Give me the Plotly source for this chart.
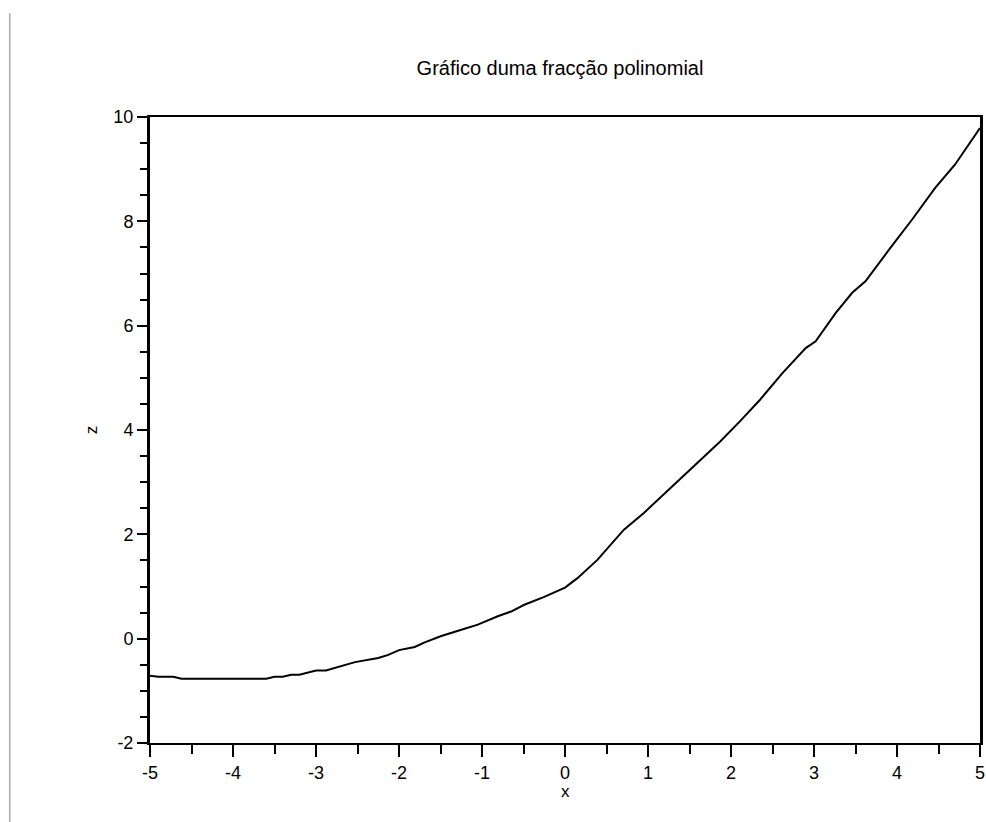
import plotly.graph_objects as go

# Sampled values of the polynomial fraction z(x)
x_vals = [-5.00, -4.90, -4.72, -4.62, -3.60, -3.50, -3.40, -3.30, -3.20, -3.00,
          -2.88, -2.53, -2.25, -2.13, -2.00, -1.81, -1.69, -1.49, -1.21, -1.05,
          -0.81, -0.65, -0.49, -0.25, 0.00, 0.15, 0.39, 0.71, 0.95, 1.31,
          1.63, 1.87, 2.11, 2.35, 2.62, 2.90, 3.02, 3.26, 3.46, 3.62,
          3.92, 4.18, 4.46, 4.70, 5.00]
z_vals = [-0.71, -0.73, -0.73, -0.77, -0.77, -0.73, -0.73, -0.69, -0.69, -0.61,
          -0.61, -0.45, -0.37, -0.31, -0.22, -0.16, -0.07, 0.05, 0.19, 0.27,
          0.43, 0.52, 0.65, 0.80, 0.98, 1.16, 1.51, 2.09, 2.41, 2.95,
          3.43, 3.78, 4.17, 4.58, 5.09, 5.57, 5.70, 6.24, 6.63, 6.85,
          7.49, 8.03, 8.64, 9.09, 9.79]

x_ticks = [-5, -4, -3, -2, -1, 0, 1, 2, 3, 4, 5]
x_labels = ["-5", "-4", "-3", "-2", "-1", "0", "1", "2", "3", "4", "5"]
y_ticks = [-2, 0, 2, 4, 6, 8, 10]
y_labels = ["-2", "0", "2", "4", "6", "8", "10"]

FONT = "Liberation Sans, Arial, sans-serif"

fig = go.Figure()
fig.add_trace(go.Scatter(x=x_vals, y=z_vals, mode="lines",
                         line=dict(color="black", width=2), showlegend=False))

fig.update_layout(
    width=986, height=822,
    margin=dict(l=150, r=1, t=117, b=79),
    paper_bgcolor="white", plot_bgcolor="white",
    font=dict(family=FONT, color="black", size=18),
    title=dict(text="Gráfico duma fracção polinomial", x=560 / 986, xanchor="center",
               y=1 - 68 / 822, yanchor="middle", font=dict(size=20)),
)

fig.update_xaxes(
    range=[-5, 5], tickmode="array", tickvals=x_ticks, ticktext=x_labels,
    ticks="outside", ticklen=12, tickwidth=2, tickcolor="black",
    ticklabeloverflow="allow",
    minor=dict(tickmode="linear", tick0=0, dtick=0.5, ticks="outside",
               ticklen=9, tickwidth=2, tickcolor="black"),
    showline=True, linewidth=2, linecolor="black", mirror=True,
    showgrid=False, zeroline=False,
    tickfont=dict(size=18),
)
fig.update_yaxes(
    range=[-2, 10], tickmode="array", tickvals=y_ticks, ticktext=y_labels,
    ticks="outside", ticklen=10, tickwidth=2, tickcolor="black",
    minor=dict(tickmode="linear", tick0=0, dtick=0.5, ticks="outside",
               ticklen=7, tickwidth=2, tickcolor="black"),
    showline=True, linewidth=3, linecolor="black", mirror=True,
    showgrid=False, zeroline=False,
    tickfont=dict(size=18),
    title=dict(text="z", font=dict(size=17), standoff=12),
)

# x-axis caption placed just under the tick labels
fig.add_annotation(text="x", xref="paper", yref="paper", x=0.5, y=(743 - 791) / 626,
                   xanchor="center", yanchor="middle", showarrow=False,
                   font=dict(size=17))

# thin grey rule along the left edge of the page
fig.add_shape(type="line", xref="paper", yref="paper",
              x0=(9 - 150) / 835, x1=(9 - 150) / 835,
              y0=(743 - 13) / 626, y1=(743 - 822) / 626,
              line=dict(color="#808080", width=1))

fig.write_html("out.html")
